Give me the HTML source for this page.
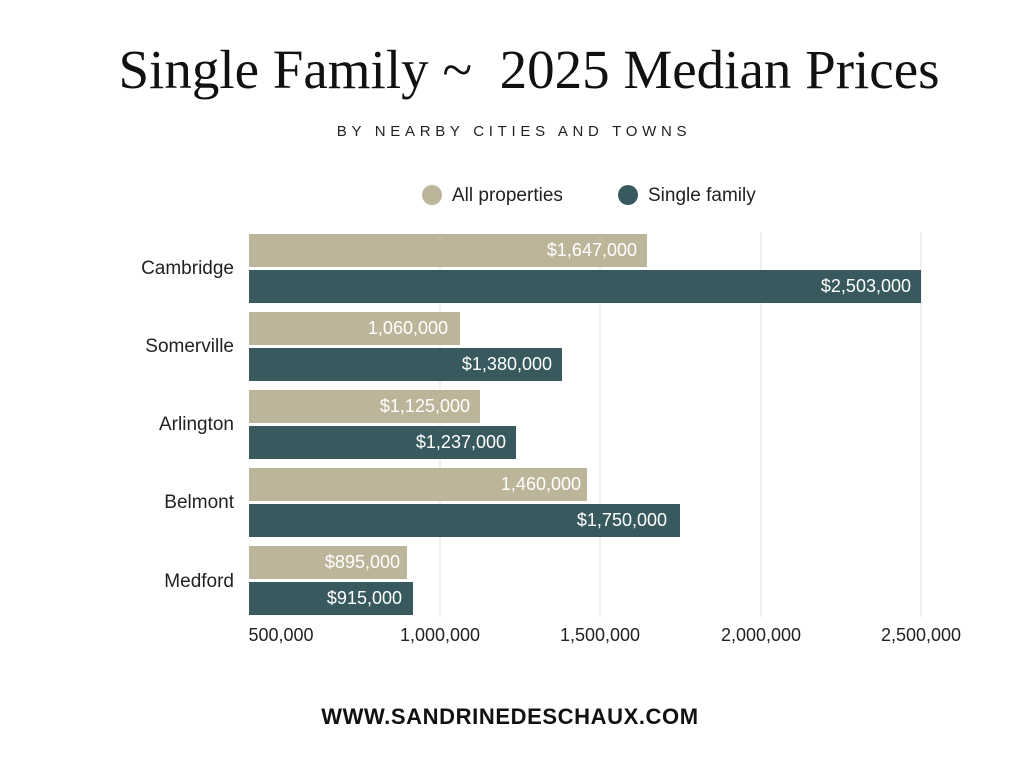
<!DOCTYPE html>
<html><head><meta charset="utf-8"><style>
html,body{margin:0;width:1024px;height:768px;overflow:hidden}
body{background:#fff;font-family:"Liberation Sans",sans-serif;position:relative}
.t{position:absolute;left:34px;width:990px;text-align:center;top:38px;font-family:"Liberation Serif",serif;font-size:55px;color:#111;white-space:nowrap}
.s{position:absolute;left:4px;width:1020px;text-align:center;top:123px;font-size:15px;letter-spacing:4.7px;color:#222;white-space:nowrap}
.f{position:absolute;left:0;width:1020px;text-align:center;top:704px;font-size:22px;font-weight:bold;color:#111;letter-spacing:0.6px;white-space:nowrap}
</style></head><body>
<svg width="1024" height="768" style="position:absolute;left:0;top:0">
<g stroke="#e2e2e2" stroke-width="1">
<line x1="440" y1="232" x2="440" y2="617"/><line x1="600" y1="232" x2="600" y2="617"/>
<line x1="761" y1="232" x2="761" y2="617"/><line x1="921" y1="232" x2="921" y2="617"/>
</g>
<g font-family="Liberation Sans,sans-serif" font-size="19">
<circle cx="432" cy="195" r="10" fill="#BDB59A"/><text x="452" y="201" fill="#222">All properties</text>
<circle cx="628" cy="195" r="10" fill="#385A5E"/><text x="648" y="201" fill="#222">Single family</text>
</g>
<g font-family="Liberation Sans,sans-serif" font-size="18" fill="#fff" text-anchor="end">
<rect x="249" y="234" width="398" height="33" fill="#BDB59A"/><text x="637" y="256">$1,647,000</text>
<rect x="249" y="270" width="672" height="33" fill="#385A5E"/><text x="911" y="292">$2,503,000</text>
<rect x="249" y="312" width="211" height="33" fill="#BDB59A"/><text x="448" y="334">1,060,000</text>
<rect x="249" y="348" width="313" height="33" fill="#385A5E"/><text x="552" y="370">$1,380,000</text>
<rect x="249" y="390" width="231" height="33" fill="#BDB59A"/><text x="470" y="412">$1,125,000</text>
<rect x="249" y="426" width="267" height="33" fill="#385A5E"/><text x="506" y="448">$1,237,000</text>
<rect x="249" y="468" width="338" height="33" fill="#BDB59A"/><text x="581" y="490">1,460,000</text>
<rect x="249" y="504" width="431" height="33" fill="#385A5E"/><text x="667" y="526">$1,750,000</text>
<rect x="249" y="546" width="158" height="33" fill="#BDB59A"/><text x="400" y="568">$895,000</text>
<rect x="249" y="582" width="164" height="33" fill="#385A5E"/><text x="402" y="604">$915,000</text>
</g>
<g font-family="Liberation Sans,sans-serif" font-size="19" fill="#222" text-anchor="end">
<text x="234" y="274">Cambridge</text><text x="234" y="352">Somerville</text>
<text x="234" y="430">Arlington</text><text x="234" y="508">Belmont</text><text x="234" y="587">Medford</text>
</g>
<g font-family="Liberation Sans,sans-serif" font-size="18" fill="#222" text-anchor="middle">
<text x="281" y="641">500,000</text><text x="440" y="641">1,000,000</text><text x="600" y="641">1,500,000</text>
<text x="761" y="641">2,000,000</text><text x="921" y="641">2,500,000</text>
</g>
</svg>
<div class="t">Single Family ~&nbsp; 2025 Median Prices</div>
<div class="s">BY NEARBY CITIES AND TOWNS</div>
<div class="f">WWW.SANDRINEDESCHAUX.COM</div>
</body></html>
